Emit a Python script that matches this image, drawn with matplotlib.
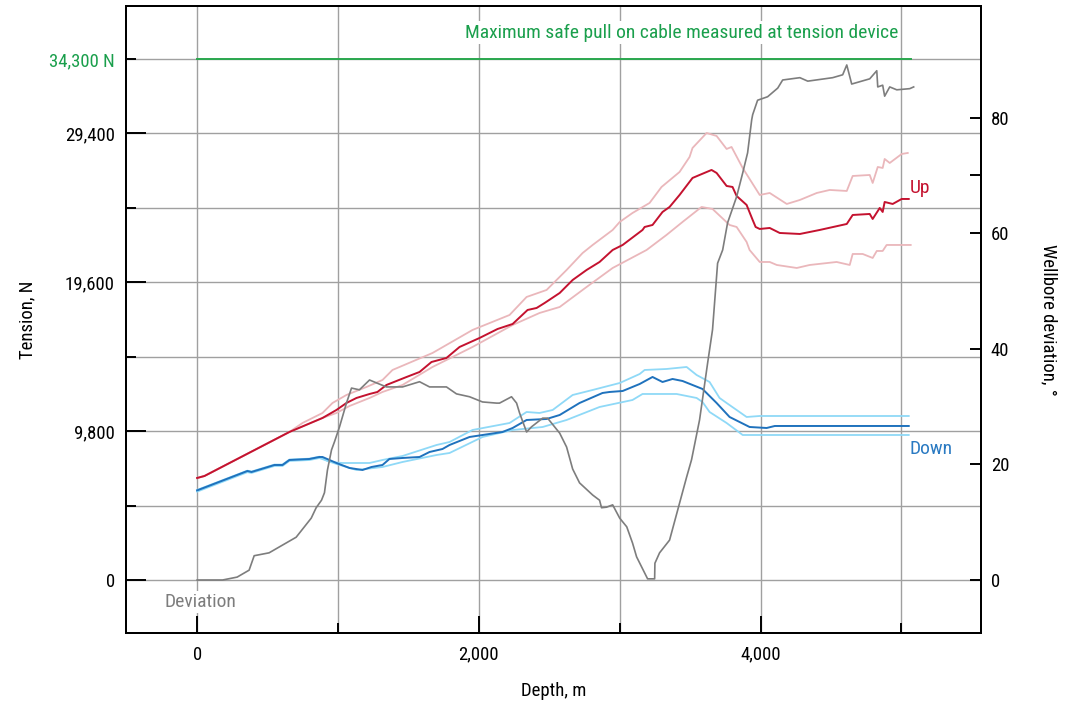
import matplotlib
matplotlib.use('Agg')
import matplotlib.pyplot as plt
from matplotlib import font_manager

# Cable tension while logging (up / down) and wellbore deviation vs depth

# Up run (tension, N) with upper / lower envelopes
up_depth = [0, 52, 655, 890, 989, 1060, 1131, 1224, 1280, 1344, 1487, 1579, 1664, 1770,
            1863, 2005, 2133, 2240, 2346, 2410, 2467, 2574, 2666, 2765, 2857, 2950, 3021,
            3162, 3177, 3233, 3304, 3354, 3425, 3517, 3567, 3652, 3688, 3759, 3801, 3830,
            3901, 3944, 3965, 3994, 4065, 4136, 4279, 4420, 4612, 4654, 4775, 4796, 4846,
            4867, 4881, 4938, 5002, 5052]
up_tension = [6717, 6848, 9746, 10668, 11195, 11655, 11985, 12248, 12380, 12841, 13368,
              13697, 14355, 14619, 15343, 15936, 16528, 16858, 17780, 17911, 18240, 18899,
              19755, 20414, 20940, 21730, 22060, 23048, 23245, 23377, 24233, 24562, 25352,
              26472, 26669, 26999, 26801, 25945, 25879, 25286, 24694, 23706, 23245, 23114,
              23179, 22850, 22784, 23048, 23443, 24035, 24101, 23772, 24496, 24233, 24891,
              24760, 25089, 25089]

up_hi_depth = [0, 52, 655, 748, 890, 961, 1060, 1202, 1316, 1387, 1671, 1955, 2218, 2339,
               2481, 2623, 2737, 2808, 2950, 3000, 3091, 3212, 3297, 3425, 3496, 3517, 3617,
               3688, 3759, 3794, 3873, 3994, 4065, 4186, 4279, 4399, 4491, 4612, 4654, 4775,
               4796, 4832, 4867, 4881, 4917, 5002, 5045]
up_hi_tension = [6717, 6848, 9746, 10338, 10997, 11655, 12182, 12709, 13170, 13829, 14948,
                 16463, 17450, 18636, 19097, 20414, 21533, 22060, 23048, 23574, 24167, 24826,
                 25879, 26867, 27855, 28447, 29435, 29237, 28381, 28513, 27130, 25352, 25484,
                 24760, 25023, 25484, 25682, 25616, 26603, 26669, 26142, 27196, 27130, 27723,
                 27459, 28052, 28118]

up_lo_depth = [0, 52, 655, 890, 989, 1082, 1224, 1316, 1458, 1671, 1955, 2240, 2431, 2574,
               2765, 2950, 3191, 3332, 3446, 3581, 3659, 3780, 3830, 3901, 3922, 3994, 4065,
               4115, 4257, 4349, 4540, 4633, 4654, 4725, 4796, 4825, 4867, 4895, 4988, 5066]
up_lo_tension = [6717, 6848, 9746, 10668, 10997, 11458, 11985, 12380, 12841, 14026, 15343,
                 16792, 17582, 17977, 19294, 20545, 21731, 22718, 23574, 24562, 24430, 23377,
                 23245, 22257, 21731, 20940, 20940, 20743, 20545, 20743, 20940, 20743, 21467,
                 21467, 21204, 21665, 21665, 22060, 22060, 22060]

# Down run (tension, N) with upper / lower envelopes
down_depth = [0, 357, 386, 549, 606, 655, 797, 868, 890, 989, 1082, 1174, 1238, 1316, 1365,
              1458, 1579, 1650, 1742, 1792, 1934, 2168, 2240, 2339, 2481, 2574, 2715, 2878,
              2928, 3021, 3142, 3233, 3304, 3375, 3446, 3588, 3688, 3780, 3922, 4043, 4101,
              5052]
down_tension = [5900, 7178, 7112, 7573, 7573, 7902, 7968, 8100, 8100, 7704, 7375, 7244, 7441,
                7573, 7968, 8034, 8100, 8429, 8626, 8890, 9417, 9746, 10009, 10536, 10602,
                10865, 11655, 12314, 12380, 12445, 12907, 13368, 13038, 13236, 13104, 12577,
                11655, 10734, 10075, 10009, 10141, 10141]

down_hi_depth = [0, 357, 386, 549, 606, 655, 797, 868, 939, 1032, 1224, 1316, 1458, 1700,
                 1792, 1955, 2218, 2339, 2431, 2524, 2666, 2808, 3000, 3142, 3177, 3332, 3475,
                 3546, 3638, 3709, 3759, 3901, 3994, 5052]
down_hi_tension = [5930, 7200, 7140, 7600, 7600, 7930, 7990, 8120, 7770, 7704, 7704, 7902,
                   8165, 8890, 9087, 9878, 10338, 11063, 10997, 11195, 12182, 12512, 12972,
                   13565, 13829, 13894, 14026, 13499, 13038, 11985, 11655, 10734, 10799, 10799]

down_lo_depth = [0, 357, 386, 549, 606, 655, 797, 868, 989, 1131, 1316, 1458, 1700, 1792,
                 2026, 2240, 2453, 2623, 2857, 3091, 3162, 3404, 3546, 3588, 3638, 3759, 3873,
                 5052]
down_lo_tension = [5820, 7100, 7050, 7510, 7510, 7840, 7900, 8030, 7640, 7244, 7441, 7770,
                   8231, 8363, 9417, 9878, 10075, 10536, 11392, 11853, 12248, 12248, 11985,
                   11721, 11063, 10338, 9548, 9548]

# Wellbore deviation, degrees
dev_depth = [0, 181, 284, 369, 405, 511, 582, 703, 810, 845, 883, 904, 925, 954, 975, 1011,
             1060, 1096, 1152, 1224, 1273, 1344, 1458, 1579, 1650, 1770, 1841, 1934, 2026,
             2126, 2147, 2232, 2268, 2289, 2339, 2374, 2453, 2488, 2574, 2623, 2666, 2715,
             2808, 2857, 2871, 2907, 2950, 3000, 3050, 3091, 3120, 3198, 3248, 3250, 3283,
             3354, 3425, 3475, 3510, 3567, 3624, 3659, 3695, 3731, 3766, 3830, 3873, 3908,
             3937, 3944, 3979, 4050, 4122, 4157, 4279, 4335, 4512, 4583, 4612, 4647, 4775,
             4825, 4832, 4867, 4881, 4917, 4967, 5059, 5087]
dev_angle = [0, 0, 0.5, 1.7, 4.2, 4.7, 5.7, 7.4, 10.7, 12.5, 13.8, 15.1, 19.0, 22.5, 23.9,
             26.5, 30.6, 33.2, 32.9, 34.6, 34.1, 33.4, 33.4, 34.3, 33.4, 33.4, 32.2, 31.7,
             30.8, 30.6, 30.6, 31.7, 30.6, 28.9, 25.6, 26.5, 28.0, 28.0, 25.4, 23.0, 19.2,
             16.8, 14.7, 13.8, 12.5, 12.6, 13.0, 10.7, 9.2, 6.4, 4.0, 0.2, 0.2, 2.9, 4.7,
             6.9, 13.3, 17.8, 20.8, 27.7, 37.5, 43.3, 54.8, 57.1, 61.8, 66.3, 70.4, 73.9,
             79.6, 80.5, 83.0, 83.6, 85.1, 86.5, 86.9, 86.3, 86.9, 87.4, 89.1, 85.8, 86.7,
             88.1, 85.3, 85.6, 83.7, 85.3, 84.8, 85.0, 85.3]

max_pull = 34300
max_pull_depth = [0, 5065]

red = '#c4122f'
pink = '#eab7bb'
blue = '#1f72bd'
lblue = '#8fd9f7'
gray = '#7d7d7d'
green = '#1a9f4c'

# look for a narrow face (reference uses a condensed sans)
fam, stretch = 'Liberation Sans', 'normal'
prefs = ['Roboto', 'Open Sans', 'Noto Sans', 'Liberation', 'DejaVu Sans', 'Lato', 'Inter']
found = []
for f in font_manager.fontManager.ttflist:
    narrow = ('Narrow' in f.name or 'Condensed' in f.name
              or 'condensed' in str(f.stretch))
    if narrow and f.style == 'normal' and str(f.weight) in ('400', 'normal', 'regular', 'book'):
        found.append(f)
for p in prefs:
    hit = [f for f in found if f.name.startswith(p)]
    if hit:
        fam, stretch = hit[0].name, hit[0].stretch
        break
plt.rcParams['font.family'] = [fam, 'DejaVu Sans']
plt.rcParams['font.stretch'] = stretch
tsize = 13.5 if fam != 'Liberation Sans' else 12.5
plt.rcParams['font.size'] = tsize

fig = plt.figure(figsize=(10.7, 7.02), dpi=100)
ax = fig.add_axes([126 / 1070, 1 - 633 / 702, 855 / 1070, 627 / 702])
ax.set_xlim(-505, 5565)
ax.set_ylim(-3490, 37795)

ax.set_xticks([0, 2000, 4000], labels=['0', '2,000', '4,000'])
ax.set_xticks([1000, 3000, 5000], minor=True)
ax.set_yticks([0, 9800, 19600, 29400], labels=['0', '9,800', '19,600', '29,400'])
ax.set_yticks([4900, 14700, 24500, 34300], labels=['', '', '', '34,300 N'], minor=True)
ax.get_yticklabels(minor=True)[3].set_color(green)
ax.tick_params(axis='x', which='major', direction='in', length=12, width=1.4, pad=9)
ax.tick_params(axis='x', which='minor', direction='in', length=7, width=1.4)
ax.tick_params(axis='y', which='major', direction='in', length=14.5, width=1.4, pad=8)
ax.tick_params(axis='y', which='minor', direction='in', length=7, width=1.4, pad=8)
ax.grid(True, which='both', color='#a0a0a0', linewidth=1.0)
ax.set_axisbelow(True)
for s in ax.spines.values():
    s.set_linewidth(1.4)

ax.plot(max_pull_depth, [max_pull, max_pull], color='#2aa84e', lw=1.4, zorder=2)
ax.plot(up_hi_depth, up_hi_tension, color=pink, lw=1.3)
ax.plot(up_lo_depth, up_lo_tension, color=pink, lw=1.3)
ax.plot(up_depth, up_tension, color=red, lw=1.4)
ax.plot(down_hi_depth, down_hi_tension, color=lblue, lw=1.3)
ax.plot(down_lo_depth, down_lo_tension, color=lblue, lw=1.3)
ax.plot(down_depth, down_tension, color=blue, lw=1.4)

ax.text(4975, 35450, 'Maximum safe pull on cable measured at tension device', color=green,
        ha='right', va='bottom', fontsize=tsize + 0.5,
        bbox=dict(facecolor='white', edgecolor='none', pad=1.5))
ax.text(5060, 25800, 'Up', color=red, ha='left', va='center', fontsize=tsize + 0.5)
ax.text(5060, 8600, 'Down', color='#2a7ac2', ha='left', va='center', fontsize=tsize + 0.5)
ax.text(20, -1450, 'Deviation', color=gray, ha='center', va='center', fontsize=tsize + 0.5,
        bbox=dict(facecolor='white', edgecolor='none', pad=1.5))

ax.set_xlabel('Depth, m', labelpad=13)
ax.set_ylabel('Tension, N', labelpad=9)

ax2 = ax.twinx()
ax2.set_ylim(-9.17, 99.3)
ax2.set_yticks([0, 20, 40, 60, 80])
ax2.set_yticks([70], minor=True)
ax2.tick_params(axis='y', which='both', direction='in', length=8, width=1.4, pad=7)
ax2.plot(dev_depth, dev_angle, color=gray, lw=1.2)
ax2.set_ylabel('Wellbore deviation, \u00b0', rotation=270, va='bottom', labelpad=22)
for s in ax2.spines.values():
    s.set_linewidth(1.4)

fig.savefig('out.png', dpi=100)
